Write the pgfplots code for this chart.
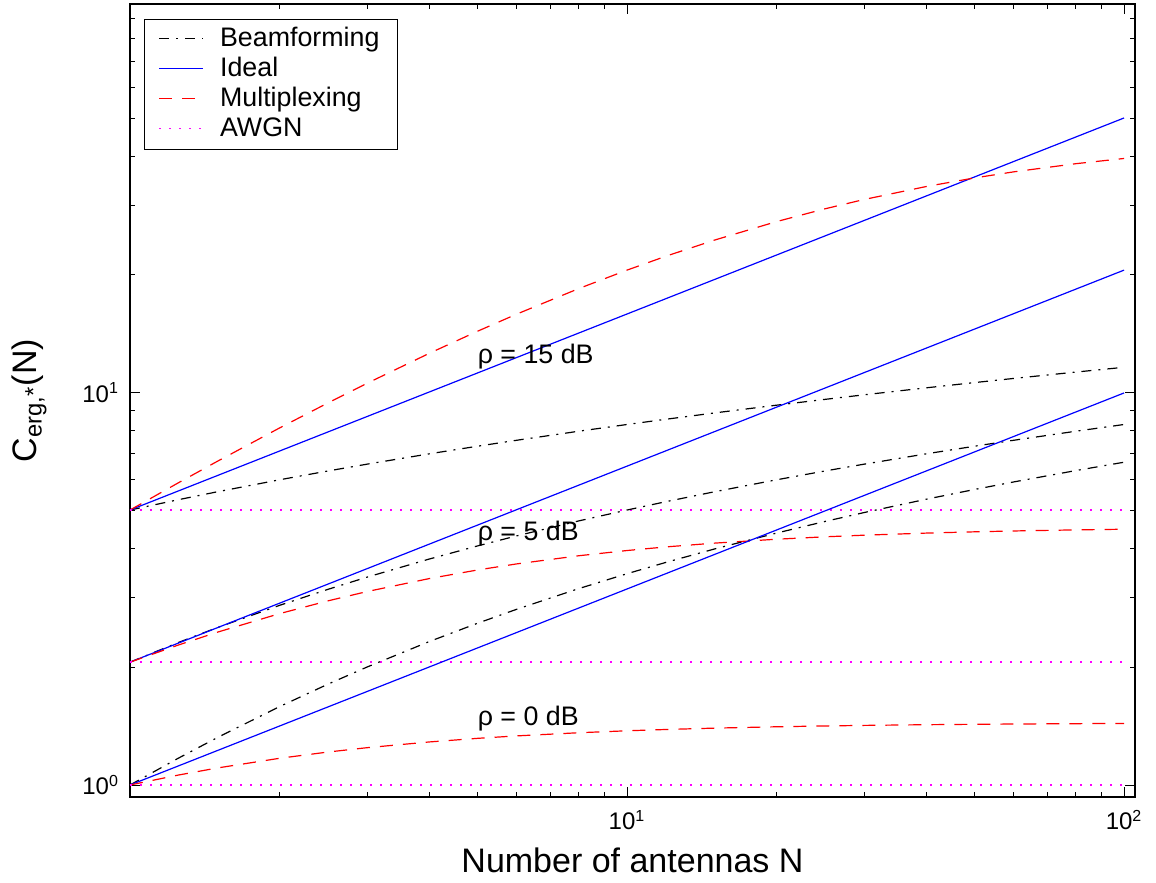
\documentclass[border=0pt]{standalone}
\usepackage{pgfplots}
\pgfplotsset{compat=1.18}
\usepackage{fontspec}
\setmainfont{Liberation Sans}
\definecolor{mblue}{rgb}{0,0,1}
\definecolor{mred}{rgb}{1,0,0}
\definecolor{mmag}{rgb}{1,0,1}
\begin{document}
\begin{tikzpicture}
\begin{axis}[
  at={(0,0)}, anchor=south west,
  scale only axis, width=502.5pt, height=396.5pt,
  xmode=log, ymode=log,
  xmin=1, xmax=105.2, ymin=0.932, ymax=98.2,
  xtick={1,10,100},
  xticklabels={{},{10\textsuperscript{1}},{10\textsuperscript{2}}},
  ytick={1,10},
  yticklabels={{10\textsuperscript{0}},{10\textsuperscript{1}}},
  minor xtick={2,3,4,5,6,7,8,9,20,30,40,50,60,70,80,90},
  minor ytick={2,3,4,5,6,7,8,9,20,30,40,50,60,70,80,90},
  tick align=inside,
  major tick length=5pt, minor tick length=2.6pt,
  every tick/.style={black, line width=0.5pt},
  axis line style={line width=0.8pt},
  tick label style={font=\fontsize{12}{14}\selectfont},
  xticklabel style={yshift=-3pt},
  yticklabel style={xshift=-2pt},
  label style={font=\fontsize{17}{20}\selectfont},
  xlabel={Number of antennas N},
  ylabel={C\textsubscript{erg,*}(N)},
  xlabel style={yshift=-2pt},
  ylabel style={yshift=11pt},
  legend cell align=left,
  legend image code/.code={\draw[#1, line width=0.8pt] (0pt,0.5pt) -- (22pt,0.5pt);},
  legend style={at={(axis description cs:0,1)}, anchor=north west,
    xshift=7pt, yshift=-7.5pt, line width=0.5pt,
    font=\fontsize{13.4}{15}\selectfont, row sep=0pt, column sep=6pt,
    inner xsep=7pt, inner ysep=2.5pt,
    nodes={inner ysep=1pt, text height=10pt, text depth=3pt}},
]
% Beamforming
\addplot[color=black, line width=0.6pt, dash pattern=on 5pt off 3.5pt on 1pt off 3.5pt] coordinates {
(1,5.0278)(1.25,5.3409)(1.5,5.5980)(2,6.0055)(2.5,6.3230)(3,6.5830)(4,6.9943)(5,7.3139)(6,7.5755)(8,7.9886)(10,8.3094)(12,8.5716)(15,8.8928)(20,9.3071)(25,9.6286)(30,9.8913)(40,10.3059)(50,10.6276)(60,10.8905)(80,11.3053)(100,11.6272)};
\addlegendentry{Beamforming}
% Ideal
\addplot[color=mblue, line width=0.6pt] coordinates {(1,5.0278)(100,50.278)};
\addlegendentry{Ideal}
% Multiplexing
\addplot[color=mred, line width=0.6pt, dash pattern=on 6.5pt off 5pt] coordinates {
(1,5.0278)(1.25,5.8961)(1.5,6.6972)(2,8.1426)(2.5,9.4268)(3,10.5862)(4,12.6188)(5,14.364)(6,15.8915)(8,18.466)(10,20.574)(12,22.345)(15,24.541)(20,27.360)(25,29.486)(30,31.155)(40,33.617)(50,35.353)(60,36.645)(80,38.445)(100,39.641)};
\addlegendentry{Multiplexing}
% AWGN
\addplot[color=mmag, line width=0.7pt, dash pattern=on 1pt off 4pt] coordinates {(1,5.0278)(100,5.0278)};
\addlegendentry{AWGN}

% 5 dB
\addplot[forget plot, black, line width=0.6pt, dash pattern=on 5pt off 3.5pt on 1pt off 3.5pt] coordinates {
(1,2.0574)(1.25,2.3083)(1.5,2.5219)(2,2.8728)(2.5,3.1547)(3,3.3905)(4,3.7707)(5,4.0713)(6,4.3201)(8,4.7169)(10,5.0278)(12,5.2835)(15,5.5980)(20,6.0055)(25,6.3230)(30,6.5830)(40,6.9943)(50,7.3139)(60,7.5755)(80,7.9886)(100,8.3094)};
\addplot[forget plot, mblue, line width=0.6pt] coordinates {(1,2.0574)(100,20.574)};
\addplot[forget plot, mred, line width=0.6pt, dash pattern=on 6.5pt off 5pt] coordinates {
(1,2.0574)(1.25,2.2745)(1.5,2.4541)(2,2.7360)(2.5,2.9486)(3,3.1155)(4,3.3617)(5,3.5352)(6,3.6645)(8,3.8445)(10,3.9641)(12,4.0495)(15,4.1397)(20,4.2356)(25,4.2959)(30,4.3375)(40,4.3909)(50,4.4237)(60,4.4460)(80,4.4745)(100,4.4916)};
\addplot[forget plot, mmag, line width=0.7pt, dash pattern=on 1pt off 4pt] coordinates {(1,2.0574)(100,2.0574)};

% 0 dB
\addplot[forget plot, black, line width=0.6pt, dash pattern=on 5pt off 3.5pt on 1pt off 3.5pt] coordinates {
(1,1)(1.25,1.1699)(1.5,1.3219)(2,1.5850)(2.5,1.8074)(3,2)(4,2.3219)(5,2.5850)(6,2.8074)(8,3.1699)(10,3.4594)(12,3.7004)(15,4)(20,4.3923)(25,4.7004)(30,4.9542)(40,5.3576)(50,5.6724)(60,5.9307)(80,6.3399)(100,6.6582)};
\addplot[forget plot, mblue, line width=0.6pt] coordinates {(1,1)(100,10)};
\addplot[forget plot, mred, line width=0.6pt, dash pattern=on 6.5pt off 5pt] coordinates {
(1,1)(1.25,1.0600)(1.5,1.1054)(2,1.1699)(2.5,1.2136)(3,1.2451)(4,1.2877)(5,1.3152)(6,1.3344)(8,1.3594)(10,1.3750)(12,1.3857)(15,1.3966)(20,1.4078)(25,1.4146)(30,1.4192)(40,1.4250)(50,1.4285)(60,1.4308)(80,1.4337)(100,1.4355)};
\addplot[forget plot, mmag, line width=0.7pt, dash pattern=on 1pt off 4pt] coordinates {(1,1)(100,1)};

\node[anchor=west, inner sep=0pt, font=\fontsize{13.4}{15}\selectfont] at (axis cs:5,12.4) {ρ = 15 dB};
\node[anchor=west, inner sep=0pt, font=\fontsize{13.4}{15}\selectfont] at (axis cs:5,4.39) {ρ = 5 dB};
\node[anchor=west, inner sep=0pt, font=\fontsize{13.4}{15}\selectfont] at (axis cs:5,1.48) {ρ = 0 dB};
\end{axis}
\path[use as bounding box] ([xshift=-65pt,yshift=-43pt]current axis.south west) rectangle ([xshift=10.5pt,yshift=2pt]current axis.north east);
\end{tikzpicture}
\end{document}
